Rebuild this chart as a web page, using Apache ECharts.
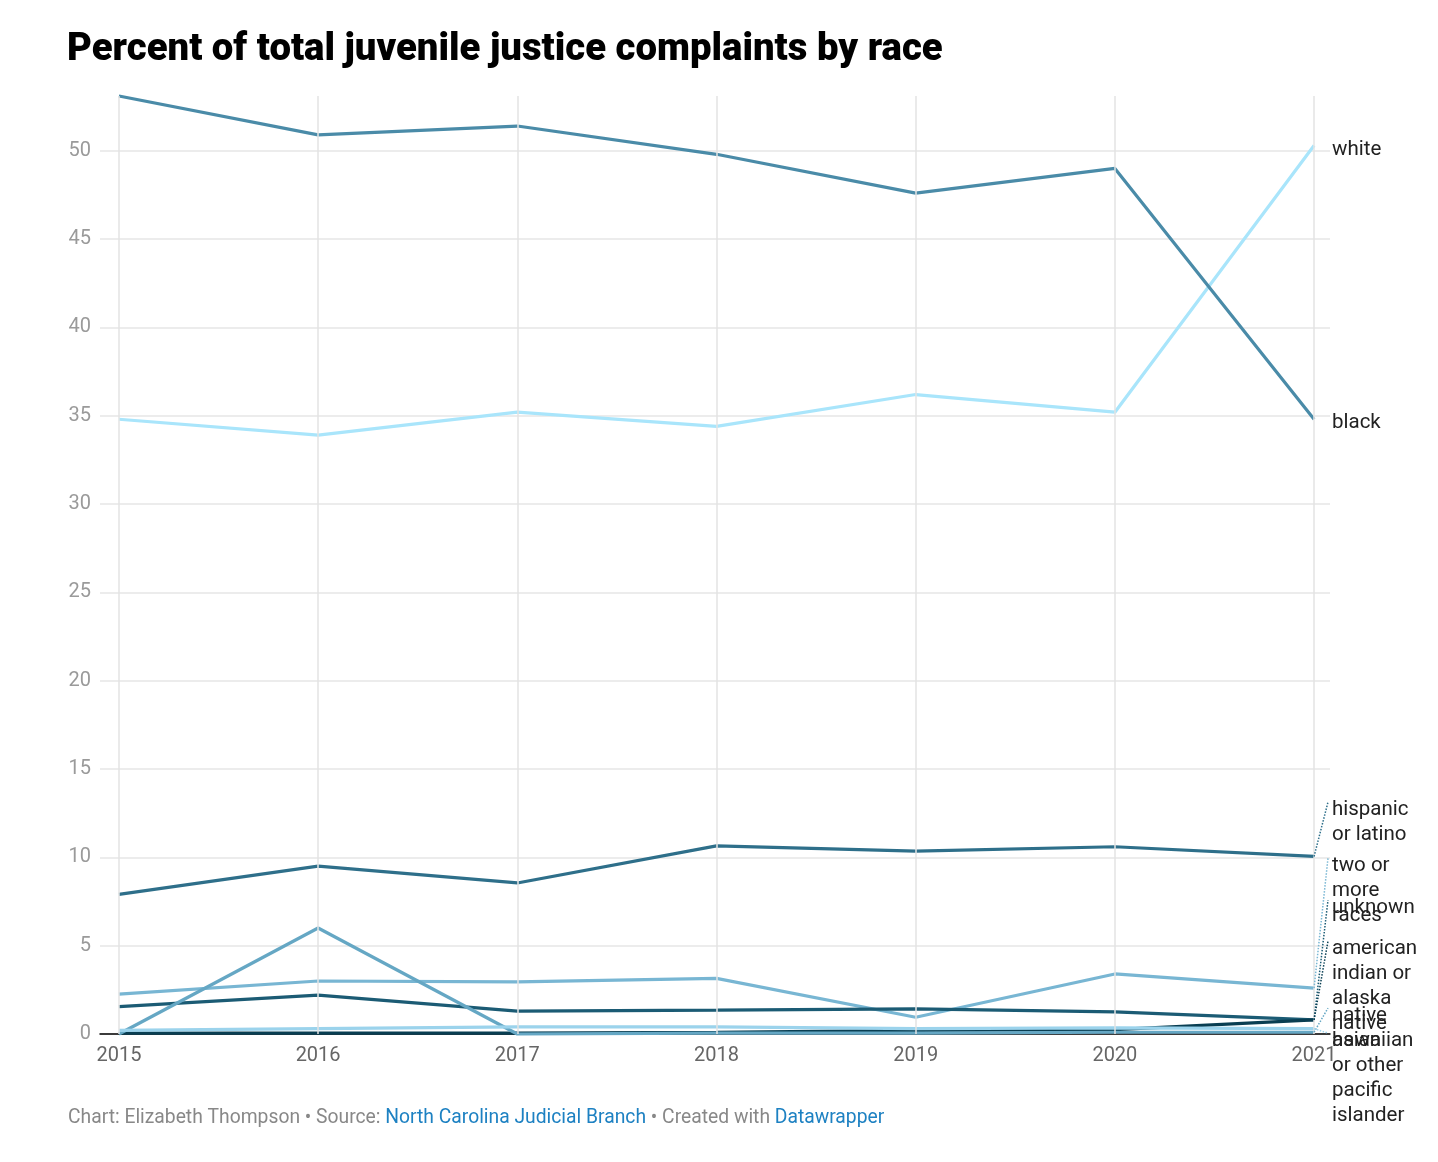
<!DOCTYPE html>
<html>
<head>
<meta charset="utf-8">
<title>Percent of total juvenile justice complaints by race</title>
<script src="https://cdn.jsdelivr.net/npm/echarts@6/dist/echarts.min.js"></script>
<style>
  html, body { margin: 0; padding: 0; background: #fff; }
  #chart { width: 1438px; height: 1162px; }
</style>
</head>
<body>
<div id="chart"></div>
<script>
// 数据
const years = [2015, 2016, 2017, 2018, 2019, 2020, 2021]
const white = [34.8, 33.9, 35.2, 34.4, 36.2, 35.2, 50.3]
const black = [53.1, 50.9, 51.4, 49.8, 47.6, 49.0, 34.8]
const hispanic = [7.9, 9.5, 8.55, 10.65, 10.35, 10.6, 10.05]
const twoOrMore = [2.26, 3.0, 2.95, 3.15, 0.95, 3.4, 2.6]
const unknown = [1.55, 2.2, 1.3, 1.35, 1.42, 1.25, 0.8]
const amIndian = [0.05, 0.05, 0.05, 0.1, 0.2, 0.25, 0.8]
const nativeHawaiian = [0, 6.0, 0, 0.05, 0.05, 0.1, 0.1]
const asian = [0.2, 0.3, 0.4, 0.4, 0.3, 0.35, 0.3]
const yTicks = [0, 5, 10, 15, 20, 25, 30, 35, 40, 45, 50]

// 线条配置 (名称, 数据, 颜色, 标签位置)
const lines = [
  { name: 'white', data: white, color: '#a9e5fb', labelAt: 50.06, connector: false },
  { name: 'black', data: black, color: '#4a8ba8', labelAt: 34.6, connector: false },
  { name: 'hispanic\nor latino', data: hispanic, color: '#2e6f8a', labelAt: 12.68, connector: true },
  { name: 'two or\nmore\nraces', data: twoOrMore, color: '#78b6d3', labelAt: 9.51, connector: true },
  { name: 'unknown', data: unknown, color: '#1b5b74', labelAt: 7.13, connector: true },
  { name: 'american\nindian or\nalaska\nnative', data: amIndian, color: '#093e52', labelAt: 4.81, connector: true },
  { name: 'native\nhawaiian\nor other\npacific\nislander', data: nativeHawaiian, color: '#65a7c4', labelAt: 1.02, connector: true },
  { name: 'asian', data: asian, color: '#9bd3ec', labelAt: -0.4, connector: true }
]

const FONT = 'Roboto, "Noto Sans", sans-serif'
const labelX = 2021.09
const myChart = echarts.init(document.querySelector('#chart'))

const series = [
  // 竖向网格线
  {
    type: 'line',
    data: [],
    silent: true,
    z: 1,
    markLine: {
      silent: true,
      symbol: ['none', 'none'],
      label: { show: false },
      lineStyle: { color: '#e3e3e3', width: 1.5, type: 'solid' },
      data: years.map(y => ({ xAxis: y }))
    }
  }
]
lines.forEach(l => {
  const last = l.data[l.data.length - 1]
  series.push({
    name: l.name,
    type: 'line',
    z: 3,
    showSymbol: false,
    symbol: 'none',
    clip: false,
    data: years.map((y, i) => [y, l.data[i]]),
    lineStyle: { width: 3.2, color: l.color },
    itemStyle: { color: l.color },
    markLine: l.connector ? {
      silent: true,
      symbol: ['none', 'none'],
      label: { show: false },
      lineStyle: { color: l.color, width: 1.5, type: 'dotted' },
      data: [[{ coord: [2021, last] }, { coord: [2021.07, l.labelAt + 0.45] }]]
    } : undefined
  })
})

const option = {
  animation: false,
  title: [
    {
      text: 'Percent of total juvenile justice complaints by race',
      left: 62,
      top: 26,
      textStyle: { fontFamily: FONT, fontSize: 38.3, fontWeight: 900, color: '#000' }
    },
    {
      text: '{g|Chart: Elizabeth Thompson • Source: }{b|North Carolina Judicial Branch}{g| • Created with }{b|Datawrapper}',
      left: 63,
      top: 1104,
      textStyle: {
        fontWeight: 'normal',
        rich: {
          g: { fontFamily: FONT, fontSize: 19.3, fontWeight: 'normal', color: '#888' },
          b: { fontFamily: FONT, fontSize: 19.3, fontWeight: 'normal', color: '#1d81c2' }
        }
      }
    }
  ],
  grid: { left: 100, right: 108, top: 96, bottom: 128 },
  xAxis: {
    type: 'value',
    min: 2014.905,
    max: 2021.08,
    axisLine: { show: true, onZero: true, lineStyle: { color: '#000', width: 1.5 } },
    axisTick: { show: false },
    splitLine: { show: false },
    axisLabel: {
      customValues: years,
      formatter: v => String(Math.round(v)),
      color: '#666',
      fontFamily: FONT,
      fontSize: 20,
      margin: 12
    }
  },
  yAxis: {
    type: 'value',
    min: 0,
    max: 53.1,
    interval: 5,
    axisLine: { show: false },
    axisTick: { show: false },
    axisLabel: {
      customValues: yTicks,
      color: '#9a9a9a',
      fontFamily: FONT,
      fontSize: 20,
      margin: 9
    },
    splitLine: { showMaxLine: false, lineStyle: { color: '#e6e6e6', width: 1.5 } }
  },
  series: series
}
myChart.setOption(option)

// 右侧标签 (通过坐标系换算位置)
const graphics = lines.map(l => {
  const p = myChart.convertToPixel({ gridIndex: 0 }, [labelX, l.labelAt])
  return {
    type: 'text',
    x: p[0],
    y: p[1] - 12.5,
    z: 10,
    style: {
      text: l.name,
      fontFamily: FONT,
      fontSize: 20.5,
      lineHeight: 25,
      fill: '#222',
      textAlign: 'left',
      textVerticalAlign: 'top'
    }
  }
})
myChart.setOption({ graphic: graphics })
</script>
</body>
</html>
